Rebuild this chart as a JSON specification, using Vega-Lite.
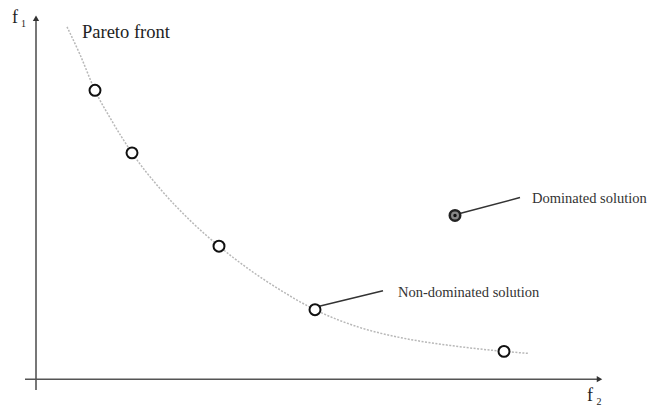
{
  "$schema": "https://vega.github.io/schema/vega-lite/v6.json",
  "width": 650,
  "height": 407,
  "padding": 0,
  "autosize": {"type": "fit", "contains": "padding"},
  "background": "white",
  "config": {"view": {"stroke": null}},
  "datasets": {
    "front": [
      {"f2": 0.62, "f1": 7.10}, {"f2": 0.88, "f1": 6.54}, {"f2": 1.18, "f1": 5.82},
      {"f2": 1.52, "f1": 5.20}, {"f2": 1.92, "f1": 4.56}, {"f2": 2.48, "f1": 3.84},
      {"f2": 3.08, "f1": 3.20}, {"f2": 3.66, "f1": 2.68}, {"f2": 4.28, "f1": 2.20},
      {"f2": 4.88, "f1": 1.80}, {"f2": 5.58, "f1": 1.40}, {"f2": 6.48, "f1": 1.04},
      {"f2": 7.28, "f1": 0.84}, {"f2": 8.28, "f1": 0.68}, {"f2": 9.36, "f1": 0.56},
      {"f2": 9.84, "f1": 0.52}
    ],
    "solutions": [
      {"f2": 1.18, "f1": 5.82}, {"f2": 1.92, "f1": 4.56}, {"f2": 3.66, "f1": 2.68},
      {"f2": 5.58, "f1": 1.40}, {"f2": 9.36, "f1": 0.56}
    ],
    "dominated": [{"f2": 8.38, "f1": 3.30}],
    "axes": [
      {"f2": 0, "f1": -0.22, "f2b": 0, "f1b": 7.24},
      {"f2": -0.22, "f1": 0, "f2b": 11.24, "f1b": 0}
    ],
    "arrows": [
      {"f2": 0, "f1": 7.27, "shape": "triangle-up"},
      {"f2": 11.27, "f1": 0, "shape": "triangle-right"}
    ],
    "leaders": [
      {"f2": 5.54, "f1": 1.44, "f2b": 6.94, "f1b": 1.78},
      {"f2": 8.40, "f1": 3.32, "f2b": 9.68, "f1b": 3.66}
    ],
    "labels": [
      {"f2": 7.24, "f1": 1.74, "text": "Non-dominated solution"},
      {"f2": 9.92, "f1": 3.64, "text": "Dominated solution"}
    ],
    "title": [{"f2": 0.92, "f1": 7.00, "text": "Pareto front"}],
    "axisnames": [
      {"f2": -0.48, "f1": 7.28, "text": "f"},
      {"f2": 11.02, "f1": -0.34, "text": "f"}
    ],
    "subs": [
      {"f2": -0.30, "f1": 7.16, "text": "1"},
      {"f2": 11.21, "f1": -0.45, "text": "2"}
    ]
  },
  "encoding": {
    "x": {"field": "f2", "type": "quantitative", "scale": {"domain": [-0.72, 12.28]}, "axis": null},
    "y": {"field": "f1", "type": "quantitative", "scale": {"domain": [-0.5, 7.64]}, "axis": null}
  },
  "layer": [
    {
      "data": {"name": "front"},
      "mark": {"type": "line", "color": "#b8b8b8", "strokeWidth": 1.5, "strokeDash": [2, 1.5], "interpolate": "monotone"}
    },
    {
      "data": {"name": "axes"},
      "mark": {"type": "rule", "color": "#555555", "strokeWidth": 1.6},
      "encoding": {"x2": {"field": "f2b"}, "y2": {"field": "f1b"}}
    },
    {
      "data": {"name": "arrows"},
      "mark": {"type": "point", "filled": true, "color": "#333333", "size": 40, "opacity": 1},
      "encoding": {"shape": {"field": "shape", "type": "nominal", "scale": null}}
    },
    {
      "data": {"name": "leaders"},
      "mark": {"type": "rule", "color": "#333333", "strokeWidth": 1.5},
      "encoding": {"x2": {"field": "f2b"}, "y2": {"field": "f1b"}}
    },
    {
      "data": {"name": "solutions"},
      "mark": {"type": "point", "shape": "circle", "filled": true, "fill": "white", "stroke": "#111111", "strokeWidth": 2, "size": 120, "opacity": 1}
    },
    {
      "data": {"name": "dominated"},
      "mark": {"type": "point", "shape": "circle", "filled": true, "fill": "#888888", "stroke": "#222222", "strokeWidth": 2.5, "size": 110, "opacity": 1}
    },
    {
      "data": {"name": "dominated"},
      "mark": {"type": "point", "shape": "circle", "filled": true, "color": "#111111", "size": 12, "opacity": 1}
    },
    {
      "data": {"name": "labels"},
      "mark": {"type": "text", "align": "left", "baseline": "middle", "font": "Liberation Serif", "fontSize": 14.5, "color": "#333333"},
      "encoding": {"text": {"field": "text"}}
    },
    {
      "data": {"name": "title"},
      "mark": {"type": "text", "align": "left", "baseline": "middle", "font": "Liberation Serif", "fontSize": 18.5, "color": "#222222"},
      "encoding": {"text": {"field": "text"}}
    },
    {
      "data": {"name": "axisnames"},
      "mark": {"type": "text", "align": "left", "baseline": "middle", "font": "Liberation Serif", "fontSize": 18, "color": "#222222"},
      "encoding": {"text": {"field": "text"}}
    },
    {
      "data": {"name": "subs"},
      "mark": {"type": "text", "align": "left", "baseline": "middle", "font": "Liberation Serif", "fontSize": 10, "color": "#222222"},
      "encoding": {"text": {"field": "text"}}
    }
  ]
}
